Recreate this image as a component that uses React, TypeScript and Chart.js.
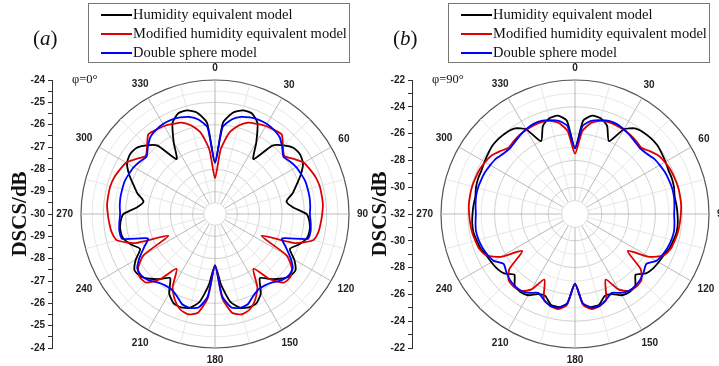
import React, { useEffect, useRef } from "react";
import { Chart, registerables } from "chart.js";
Chart.register(...registerables);

// 72 directions, 5 degree steps, clockwise from the top
const ANGLE_CATEGORIES: string[] = Array.from({ length: 72 }, (_, i) => String(i * 5));
const ANGLE_TICKS: string[] = ["0", "30", "60", "90", "120", "150", "180", "210", "240", "270", "300", "330"];
const SERIES_NAMES: string[] = ["Humidity equivalent model", "Modified humidity equivalent model", "Double sphere model"];
const SERIES_COLORS: string[] = ["#000000", "#dd0000", "#0000ff"];

// ---- panel (a), phi = 0 deg, values in dB; R = 0..180 deg, L = 185..355 deg
const A_BLACK_R = [-27.7,-25.9,-25.4,-25.2,-25.2,-25.5,-26.3,-27.0,-26.0,-25.65,-25.4,-25.35,-25.45,-25.75,-26.1,-26.4,-26.75,-26.5,-25.9,-25.75,-25.7,-25.75,-26.0,-26.3,-25.9,-25.6,-25.65,-25.9,-26.2,-26.5,-25.9,-25.6,-25.55,-25.65,-26.0,-26.8,-27.7];
const A_BLACK_L = [-26.8,-26.0,-25.65,-25.55,-25.6,-25.9,-26.5,-26.2,-25.9,-25.65,-25.6,-25.9,-26.3,-26.0,-25.75,-25.7,-25.75,-25.9,-26.5,-26.75,-26.4,-26.1,-25.75,-25.45,-25.35,-25.4,-25.65,-26.0,-27.0,-26.3,-25.5,-25.2,-25.2,-25.4,-25.9];
const A_RED_R = [-28.4,-27.1,-26.3,-25.9,-25.65,-25.55,-25.45,-25.4,-25.35,-25.7,-25.95,-25.7,-25.4,-25.3,-25.2,-25.15,-25.15,-25.15,-25.2,-25.25,-25.3,-25.45,-26.2,-27.7,-26.3,-25.8,-25.6,-25.65,-26.2,-27.0,-26.2,-25.75,-25.45,-25.35,-25.5,-26.2,-27.7];
const A_RED_L = [-26.2,-25.5,-25.35,-25.45,-25.75,-26.2,-27.0,-26.2,-25.65,-25.6,-25.8,-26.3,-27.7,-26.2,-25.45,-25.3,-25.25,-25.2,-25.15,-25.15,-25.15,-25.2,-25.3,-25.4,-25.7,-25.95,-25.7,-25.35,-25.4,-25.45,-25.55,-25.65,-25.9,-26.3,-27.1];
const A_BLUE_R = [-27.7,-26.1,-25.7,-25.5,-25.4,-25.35,-25.35,-25.4,-25.5,-25.75,-26.0,-25.9,-25.8,-25.75,-25.7,-25.7,-25.7,-25.72,-25.75,-25.7,-25.65,-25.7,-26.8,-26.5,-26.1,-25.75,-25.7,-25.8,-26.0,-26.1,-26.1,-25.95,-25.7,-25.65,-25.75,-26.3,-27.7];
const A_BLUE_L = [-26.3,-25.75,-25.65,-25.7,-25.95,-26.1,-26.1,-26.0,-25.8,-25.7,-25.75,-26.1,-26.5,-26.8,-25.7,-25.65,-25.7,-25.75,-25.72,-25.7,-25.7,-25.7,-25.75,-25.8,-25.9,-26.0,-25.75,-25.5,-25.4,-25.35,-25.35,-25.4,-25.5,-25.7,-26.1];

// ---- panel (b), phi = 90 deg
const B_BLACK_R = [-27.1,-25.0,-24.55,-24.6,-25.0,-26.0,-24.7,-24.2,-24.05,-24.0,-24.0,-24.1,-24.2,-24.3,-24.3,-24.35,-24.45,-24.4,-24.35,-24.3,-24.3,-24.4,-24.5,-24.7,-24.8,-24.9,-25.1,-25.6,-25.0,-24.9,-25.0,-25.4,-25.5,-25.0,-24.95,-25.3,-26.8];
const B_BLACK_L = [-25.3,-24.95,-25.0,-25.5,-25.4,-25.0,-24.9,-25.0,-25.6,-25.1,-24.9,-24.8,-24.7,-24.5,-24.4,-24.3,-24.3,-24.35,-24.4,-24.45,-24.35,-24.3,-24.3,-24.2,-24.1,-24.0,-24.0,-24.05,-24.2,-24.7,-26.0,-25.0,-24.6,-24.55,-25.0];
const B_RED_R = [-27.5,-25.8,-25.1,-24.8,-24.7,-24.7,-24.75,-24.8,-24.9,-25.0,-24.7,-24.4,-24.25,-24.15,-24.1,-24.05,-24.05,-24.05,-24.1,-24.15,-24.2,-24.3,-24.4,-24.7,-25.6,-27.2,-25.6,-25.0,-24.9,-25.0,-25.5,-26.6,-25.2,-24.9,-24.8,-25.2,-26.8];
const B_RED_L = [-25.2,-24.8,-24.9,-25.2,-26.6,-25.5,-25.0,-24.9,-25.0,-25.6,-27.2,-25.6,-24.7,-24.4,-24.3,-24.2,-24.15,-24.1,-24.05,-24.05,-24.05,-24.1,-24.15,-24.25,-24.4,-24.7,-25.0,-24.9,-24.8,-24.75,-24.7,-24.7,-24.8,-25.1,-25.8];
const B_BLUE_R = [-27.1,-25.4,-24.95,-24.75,-24.6,-24.6,-24.7,-24.85,-25.0,-25.1,-25.0,-24.8,-24.7,-24.6,-24.55,-24.5,-24.5,-24.55,-24.6,-24.55,-24.5,-24.55,-24.65,-24.8,-25.0,-25.5,-25.3,-25.1,-25.0,-25.0,-25.2,-25.5,-25.2,-24.9,-24.9,-25.3,-26.8];
const B_BLUE_L = [-25.3,-24.9,-24.9,-25.2,-25.5,-25.2,-25.0,-25.0,-25.1,-25.3,-25.5,-25.0,-24.8,-24.65,-24.55,-24.5,-24.55,-24.6,-24.55,-24.5,-24.5,-24.55,-24.6,-24.7,-24.8,-25.0,-25.1,-25.0,-24.85,-24.7,-24.6,-24.6,-24.75,-24.95,-25.4];

type PanelCfg = {
  left: number;
  letter: string;
  phi: string;
  rMin: number;
  rMax: number;
  gridStep: number;
  labelStep: number;
  series: number[][];
};

const PANELS: PanelCfg[] = [
  {
    left: 0, letter: "a", phi: "φ=0°", rMin: -30, rMax: -24, gridStep: 0.5, labelStep: 1,
    series: [[...A_BLACK_R, ...A_BLACK_L], [...A_RED_R, ...A_RED_L], [...A_BLUE_R, ...A_BLUE_L]],
  },
  {
    left: 360, letter: "b", phi: "φ=90°", rMin: -32, rMax: -22, gridStep: 1, labelStep: 2,
    series: [[...B_BLACK_R, ...B_BLACK_L], [...B_RED_R, ...B_RED_L], [...B_BLUE_R, ...B_BLUE_L]],
  },
];

const SANS = '"Liberation Sans", Arial, sans-serif';
const SERIF = '"Liberation Serif", "Times New Roman", serif';

function isMultiple(v: number, step: number) {
  const q = v / step;
  return Math.abs(q - Math.round(q)) < 1e-6;
}

function Panel({ cfg }: { cfg: PanelCfg }) {
  const ref = useRef<HTMLCanvasElement>(null);
  useEffect(() => {
    const span = cfg.rMax - cfg.rMin;
    const holeValue = cfg.rMin + cfg.gridStep;
    const decor = {
      id: "polarDecor",
      beforeDatasetsDraw(chart: any) {
        const s = chart.scales.r;
        const ctx = chart.ctx;
        const rr = s.getDistanceFromCenterForValue(holeValue);
        ctx.save();
        ctx.beginPath();
        ctx.arc(s.xCenter, s.yCenter, rr, 0, Math.PI * 2);
        ctx.fillStyle = "#ffffff";
        ctx.fill();
        ctx.strokeStyle = "#d8d8d8";
        ctx.lineWidth = 0.8;
        ctx.stroke();
        ctx.restore();
      },
      afterDraw(chart: any) {
        const s = chart.scales.r;
        const ctx = chart.ctx;
        ctx.save();
        ctx.font = `bold 10px ${SANS}`;
        ctx.fillStyle = "#222";
        ctx.textAlign = "center";
        ctx.textBaseline = "middle";
        const R = s.drawingArea;
        ANGLE_TICKS.forEach((t) => {
          const idx = ANGLE_CATEGORIES.indexOf(t);
          const ang = s.getIndexAngle(idx) - Math.PI / 2;
          const hw = ctx.measureText(t).width / 2;
          const d = R + 8 + Math.abs(Math.cos(ang)) * hw + Math.abs(Math.sin(ang)) * 4;
          const p = s.getPointPosition(idx, d);
          ctx.fillText(t, p.x, p.y);
        });
        ctx.restore();
      },
    };

    const chart = new Chart(ref.current as HTMLCanvasElement, {
      type: "radar",
      data: {
        labels: ANGLE_CATEGORIES,
        datasets: cfg.series.map((d, i) => ({
          label: SERIES_NAMES[i],
          data: d,
          borderColor: SERIES_COLORS[i],
          backgroundColor: "transparent",
          borderWidth: 1.8,
          fill: false,
          pointRadius: 0,
          pointHoverRadius: 0,
          tension: 0.2,
          order: 2 - i,
        })),
      },
      options: {
        animation: false,
        responsive: false,
        maintainAspectRatio: false,
        events: [],
        layout: { padding: { left: 0, right: 2, top: 80, bottom: 18 } },
        plugins: { legend: { display: false }, tooltip: { enabled: false } },
        scales: {
          r: {
            min: cfg.rMin,
            max: cfg.rMax,
            startAngle: 0,
            ticks: { display: false, stepSize: cfg.gridStep },
            pointLabels: { display: false },
            grid: {
              circular: true,
              color: (c: any) => {
                const v = c.tick ? c.tick.value : 0;
                if (Math.abs(v - cfg.rMax) < 1e-6) return "#555555";
                return isMultiple(v - cfg.rMin, cfg.labelStep) ? "#c4c4c4" : "#e2e2e2";
              },
              lineWidth: (c: any) => {
                const v = c.tick ? c.tick.value : 0;
                return Math.abs(v - cfg.rMax) < 1e-6 ? 1.2 : 0.8;
              },
            },
            angleLines: {
              display: true,
              color: (c: any) => (c.index % 6 === 0 ? "#a8a8a8" : c.index % 3 === 0 ? "#e0e0e0" : "rgba(0,0,0,0)"),
              lineWidth: (c: any) => (c.index % 3 === 0 ? 0.8 : 0),
            },
          },
          y: {
            type: "linear",
            position: "left",
            min: -span,
            max: span,
            afterFit: (scale: any) => {
              scale.width = 52;
            },
            ticks: {
              stepSize: cfg.gridStep,
              autoSkip: false,
              padding: 3,
              color: "#222",
              font: { family: SANS, weight: "bold", size: 10, lineHeight: 1 },
              callback: (v: any) => (isMultiple(Number(v), cfg.labelStep) ? String(cfg.rMin + Math.abs(Number(v))) : ""),
            },
            grid: { drawOnChartArea: false, drawTicks: true, tickLength: 4, color: "#333", tickWidth: 1 },
            border: { display: true, color: "#333", width: 1 },
            title: {
              display: true,
              text: "DSCS/dB",
              color: "#111",
              font: { family: SERIF, weight: "bold", size: 21 },
              padding: { top: 8, bottom: 0 },
            },
          },
        },
      } as any,
      plugins: [decor],
    });
    return () => chart.destroy();
  }, [cfg]);

  const L = cfg.left;
  const rowTops = [12, 31, 50];
  return (
    <>
      <canvas
        ref={ref}
        width={380}
        height={366}
        style={{ position: "absolute", left: L, top: 0, width: 380, height: 366 }}
      />
      <div
        style={{
          position: "absolute",
          left: L + 88,
          top: 3,
          width: 262,
          height: 60,
          border: "1px solid #777",
          boxSizing: "border-box",
          background: "#fff",
        }}
      >
        {SERIES_NAMES.map((name, i) => (
          <div key={name} style={{ position: "absolute", left: 0, top: rowTops[i] - 1, width: 260 }}>
            <div
              style={{
                position: "absolute",
                left: 12,
                top: -1,
                width: 31,
                height: 2,
                background: SERIES_COLORS[i],
              }}
            />
            <div
              style={{
                position: "absolute",
                left: 44,
                top: -9,
                fontFamily: SERIF,
                fontSize: 14.5,
                lineHeight: "17px",
                whiteSpace: "nowrap",
                color: "#111",
              }}
            >
              {name}
            </div>
          </div>
        ))}
      </div>
      <div
        style={{
          position: "absolute",
          left: L + 33,
          top: 26,
          fontFamily: SERIF,
          fontSize: 21,
          lineHeight: "24px",
          color: "#111",
        }}
      >
        (<i>{cfg.letter}</i>)
      </div>
      <div
        style={{
          position: "absolute",
          left: L + 72,
          top: 72,
          fontFamily: SERIF,
          fontSize: 12.5,
          lineHeight: "15px",
          color: "#111",
          whiteSpace: "nowrap",
        }}
      >
        {cfg.phi}
      </div>
    </>
  );
}

export default function App() {
  return (
    <div
      style={{
        position: "absolute",
        left: 0,
        top: 0,
        width: 719,
        height: 366,
        overflow: "hidden",
        background: "#ffffff",
      }}
    >
      {PANELS.map((p) => (
        <Panel key={p.letter} cfg={p} />
      ))}
    </div>
  );
}
